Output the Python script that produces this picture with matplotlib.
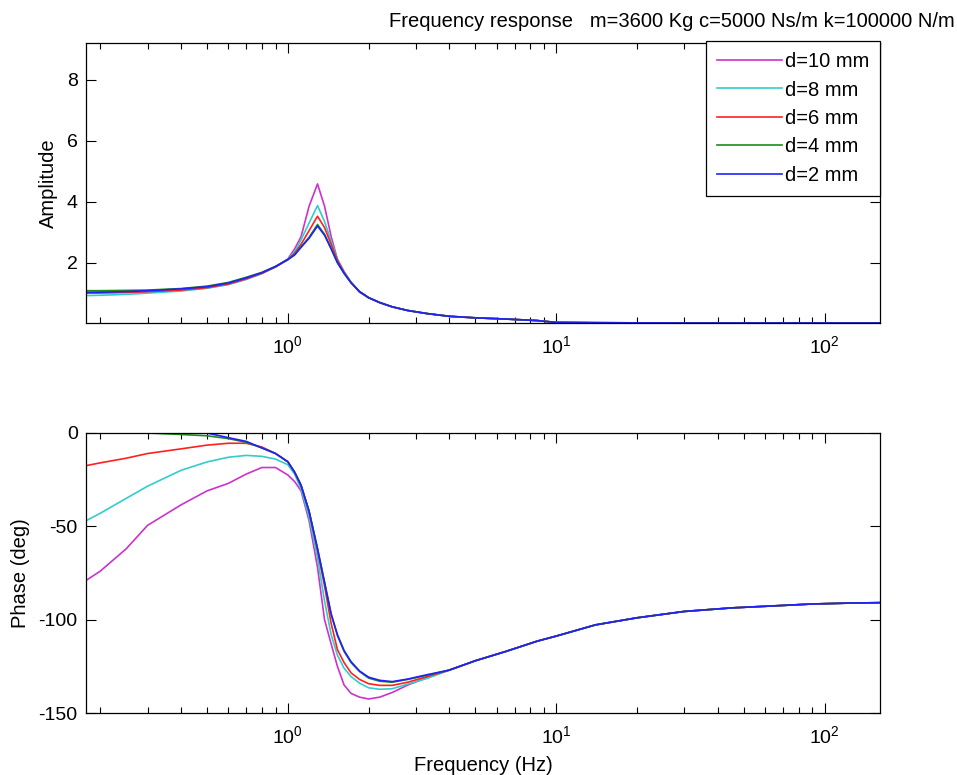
import matplotlib
matplotlib.use("Agg")
import matplotlib.pyplot as plt

plt.rcParams['font.family'] = ['Liberation Sans', 'DejaVu Sans']
plt.rcParams['font.size'] = 14.5
plt.rcParams['axes.unicode_minus'] = False

# frequency points (Hz), shared by all curves
freq = [0.177, 0.2, 0.25, 0.3, 0.4, 0.5, 0.6, 0.7, 0.8, 0.9, 1.0, 1.06, 1.12, 1.2, 1.29,
        1.37, 1.45, 1.53, 1.62, 1.72, 1.85, 2.0, 2.2, 2.45, 2.8, 3.3, 4.0, 5.0, 6.5, 8.5,
        10, 14, 20, 30, 45, 65, 90, 125, 161]

labels = ['d=10 mm', 'd=8 mm', 'd=6 mm', 'd=4 mm', 'd=2 mm']
colors = ['#cc33cc', '#33cccc', '#ff2020', '#1a8c1a', '#2020ff']

amp_tail = [0.85, 0.69, 0.55, 0.43, 0.33, 0.24, 0.19, 0.15, 0.1,
            0.04, 0.03, 0.025, 0.02, 0.02, 0.02, 0.02, 0.02, 0.02]
amp_d10 = [1.0, 1.0, 1.02, 1.04, 1.09, 1.17, 1.29, 1.46, 1.65, 1.87, 2.12, 2.45, 2.85, 3.85, 4.58,
           3.85, 2.86, 2.1, 1.7, 1.35, 1.03] + amp_tail
amp_d8 = [0.92, 0.93, 0.96, 1.0, 1.07, 1.16, 1.28, 1.45, 1.64, 1.86, 2.1, 2.35, 2.75, 3.3, 3.87,
          3.35, 2.7, 2.12, 1.7, 1.36, 1.05] + amp_tail
amp_d6 = [1.03, 1.03, 1.03, 1.05, 1.1, 1.18, 1.3, 1.47, 1.65, 1.86, 2.1, 2.3, 2.6, 3.05, 3.52,
          3.15, 2.6, 2.08, 1.68, 1.35, 1.05] + amp_tail
amp_d4 = [1.08, 1.08, 1.09, 1.1, 1.15, 1.23, 1.35, 1.52, 1.68, 1.88, 2.1, 2.27, 2.52, 2.83, 3.25,
          2.93, 2.47, 2.0, 1.65, 1.34, 1.05] + amp_tail
amp_d2 = [1.02, 1.03, 1.05, 1.08, 1.14, 1.21, 1.33, 1.5, 1.67, 1.87, 2.1, 2.25, 2.5, 2.8, 3.2,
          2.9, 2.45, 2.0, 1.65, 1.34, 1.05] + amp_tail

ph_tail = [-127, -122, -117, -111.5, -108.8, -102.8, -99, -95.6, -93.7, -92.6, -91.6, -91.1, -90.9]
ph_d10 = [-79, -74, -62, -49.5, -38.5, -31, -27, -22, -18.5, -18.5, -22.5, -26, -31, -47, -72,
          -100, -113, -125, -135, -139.5, -141.5, -142.5, -141.5, -139, -135, -131] + ph_tail
ph_d8 = [-47, -43, -35, -28.5, -20, -15.5, -13, -12, -12.5, -14, -17, -22, -30, -45, -67,
         -90, -108, -119, -126, -130.5, -134, -136.5, -137.3, -137, -134.5, -131.5] + ph_tail
ph_d6 = [-17.5, -16, -13.5, -11, -8.5, -6.5, -5.5, -5.5, -7.5, -11, -15.5, -21, -28, -42, -63,
         -82, -102, -116, -123, -128.5, -132, -134.3, -135.2, -135.2, -133.5, -130.5] + ph_tail
ph_d4 = [2, 1.5, 0.8, 0, -0.8, -1.5, -3, -5, -8, -11, -15.4, -21, -28, -42, -62,
         -80, -97, -108.5, -117, -123, -127.8, -131.3, -133, -133.5, -132, -129.8] + ph_tail
ph_d2 = [5, 4.5, 3.5, 2.5, 1, 0, -2.5, -4.5, -8, -11, -15.4, -21, -28, -42, -62,
         -80, -97, -108, -116.5, -122.5, -127.5, -130.8, -132.5, -133.2, -131.8, -129.5] + ph_tail

amps = [amp_d10, amp_d8, amp_d6, amp_d4, amp_d2]
phases = [ph_d10, ph_d8, ph_d6, ph_d4, ph_d2]

fig = plt.figure(figsize=(9.57, 7.75), dpi=100)
ax1 = fig.add_axes([0.0899, 0.5832, 0.8297, 0.3613])
ax2 = fig.add_axes([0.0899, 0.0800, 0.8297, 0.3613])

for a, p, c, lab in zip(amps, phases, colors, labels):
    ax1.plot(freq, a, color=c, lw=1.2, label=lab)
    ax2.plot(freq, p, color=c, lw=1.2)

for ax in (ax1, ax2):
    ax.set_xscale('log')
    ax.set_xlim(0.177, 161)
    ax.tick_params(which='both', direction='in', top=True, right=True, labelsize=14)
    ax.tick_params(axis='y', pad=6)
    ax.tick_params(axis='x', pad=9)
    ax.tick_params(which='major', length=7, width=0.8)
    ax.tick_params(which='minor', length=4, width=0.8)
    for s in ax.spines.values():
        s.set_linewidth(0.9)

ax1.set_ylim(0.02, 9.2)
ax1.set_yticks([2, 4, 6, 8])
ax1.set_ylabel('Amplitude', labelpad=6)

ax2.set_ylim(-150, 0)
ax2.set_yticks([-150, -100, -50, 0])
ax2.set_ylabel('Phase (deg)', labelpad=6)
ax2.set_xlabel('Frequency (Hz)', labelpad=6)

leg = ax1.legend(loc='upper right', bbox_to_anchor=(880 / 957, 1 - 41 / 775),
                 bbox_transform=fig.transFigure, borderaxespad=0, fancybox=False,
                 framealpha=1, edgecolor='black', handlelength=3.2, handletextpad=0.15,
                 labelspacing=0.47, borderpad=0.55)
leg.get_frame().set_linewidth(0.9)

fig.text(0.998, 0.985, 'Frequency response   m=3600 Kg c=5000 Ns/m k=100000 N/m',
         ha='right', va='top')

fig.savefig('out.png', dpi=100)
